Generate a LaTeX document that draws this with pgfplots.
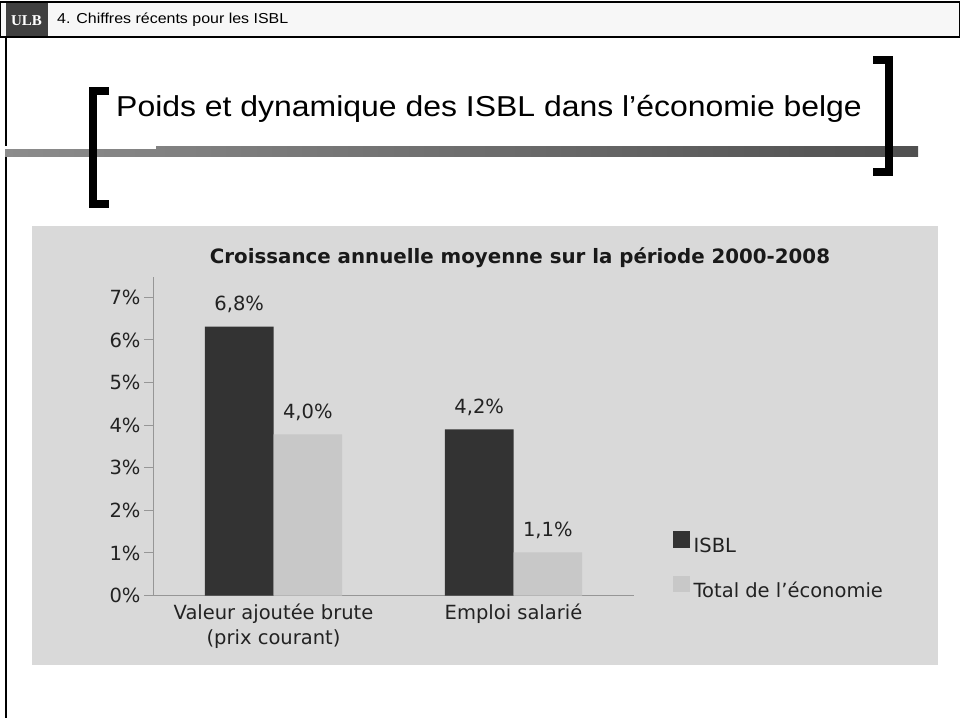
\documentclass[border=0pt]{standalone}
\usepackage{fontspec}
\setmainfont{DejaVu Sans}
\newfontfamily\titlefont[FakeStretch=1.109]{Liberation Sans}
\newfontfamily\ulbfont{Liberation Serif}
\usepackage{pgfplots}
\pgfplotsset{compat=1.18}

\definecolor{chartbg}{RGB}{217,217,217}
\definecolor{darkbar}{RGB}{51,51,51}
\definecolor{lightbar}{RGB}{200,200,200}
\definecolor{axisgray}{RGB}{150,150,150}
\definecolor{txt}{RGB}{34,34,34}
\definecolor{ulbbox}{RGB}{64,64,64}
\newcommand\cfont{\fontsize{19.5}{25}\selectfont}

\begin{document}
\begin{tikzpicture}[x=1pt,y=1pt]
\path[use as bounding box] (0,0) rectangle (960,718);
\fill[white] (0,0) rectangle (960,718);

% slide header
\filldraw[fill=black!3,draw=black,line width=2pt] (0,716) rectangle (960,681);
\fill[ulbbox] (6,715) rectangle (48,682);
\node[anchor=base,inner sep=0pt,text=white,font=\ulbfont\bfseries\fontsize{15}{18}\selectfont] at (26.5,692) {ULB};
\node[anchor=base west,inner sep=0pt,font=\titlefont\fontsize{14.4}{17}\selectfont] at (57,694) {4. Chiffres récents pour les ISBL};
\draw[black,line width=2pt] (5.5,681) -- (5.5,0);

% title rule and brackets
\shade[left color={rgb,255:red,140;green,140;blue,140},right color={rgb,255:red,80;green,80;blue,80}] (5,561) rectangle (918,571);
\fill[white] (5,569) rectangle (156,571.5);
\draw[black,line width=8pt,line join=miter] (109,627) -- (93,627) -- (93,514) -- (109,514);
\draw[black,line width=8pt,line join=miter] (873,657.5) -- (889,657.5) -- (889,546) -- (873,546);
\node[anchor=base west,inner sep=0pt,font=\titlefont\fontsize{28.8}{34}\selectfont] at (116,601.5) {Poids et dynamique des ISBL dans l’économie belge};

% chart panel
\fill[chartbg] (32,53) rectangle (938,492);

\begin{axis}[
    at={(153.5pt,122.5pt)}, anchor=south west,
    scale only axis, width=480pt, height=318.6pt,
    xmin=-0.5, xmax=1.5, ymin=0, ymax=7.48,
    enlargelimits=false,
    ybar, bar width=0.286,
    axis x line*=bottom, axis y line*=left,
    axis line style={axisgray,line width=1pt,-},
    x axis line style={shorten <=-9.5pt},
    xtick={0,1},
    xticklabels={{Valeur ajoutée brute\\(prix courant)},{Emploi salarié}},
    xtick style={draw=none},
    ytick={0,...,7},
    yticklabels={0\%,1\%,2\%,3\%,4\%,5\%,6\%,7\%},
    ytick style={axisgray,line width=1pt},
    major tick length=9.5pt, tick align=outside,
    tick label style={font=\cfont,text=txt},
    xticklabel style={align=center,yshift=5pt},
    title={Croissance annuelle moyenne sur la période 2000-2008},
    title style={at={(0.7635,1.0217)},anchor=base,inner sep=0pt,
        font=\fontsize{19.8}{24}\selectfont\bfseries,text=black!90},
    point meta=explicit symbolic,
    nodes near coords,
    every node near coord/.append style={font=\cfont,text=txt,anchor=base,inner sep=0pt,yshift=16pt},
    legend style={at={(1.0815,0.201)},anchor=north west,draw=none,fill=none,
        inner sep=0pt,outer sep=0pt,font=\cfont,text=txt,row sep=22pt,
        nodes={inner sep=0pt}},
    legend cell align=left,
    legend image code/.code={\fill[#1,draw=none] (0pt,-2.2pt) rectangle (17pt,14.3pt);},
    /tikz/every odd column/.append style={column sep=4pt},
]
\addplot[fill=darkbar,draw=none,bar shift=-0.143]
    coordinates {(0,6.31) [6,8\%] (1,3.90) [4,2\%]};
\addlegendentry{ISBL}
\addplot[fill=lightbar,draw=none,bar shift=0.143]
    coordinates {(0,3.78) [4,0\%] (1,1.01) [1,1\%]};
\addlegendentry{Total de l’économie}
\end{axis}
\end{tikzpicture}
\end{document}
